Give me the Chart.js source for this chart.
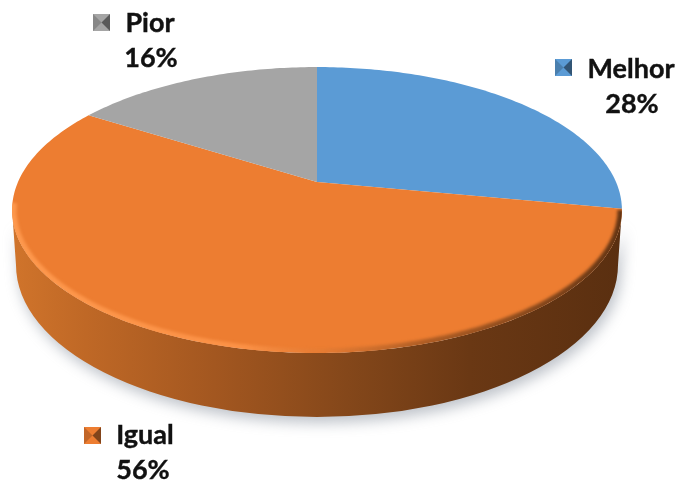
<!DOCTYPE html>
<html>
<head>
<meta charset="utf-8">
<style>
  html, body { margin: 0; background: #fff; }
  canvas { display: block; filter: blur(0.4px); }
</style>
<script src="https://cdn.jsdelivr.net/npm/chart.js@4/dist/chart.umd.js"></script>
</head>
<body>
<canvas id="pie" width="678" height="481"></canvas>
<script>
const categories = ["Melhor", "Igual", "Pior"];
const shares = [28, 56, 16];
const sliceColors = ["#5b9bd5", "#ed7d31", "#a5a5a5"];

// where each label sits: marker box, name centre/baseline, percent centre/baseline
const labelSpots = [
  { box: [555, 59], nameX: 631, nameY: 78, pctX: 632, pctY: 113 },
  { box: [84, 427], nameX: 145, nameY: 444, pctX: 143, pctY: 479 },
  { box: [93, 14], nameX: 150, nameY: 32, pctX: 151, pctY: 67 },
];

// perspective of the tilted disc: apex at (cx, cy), ellipse top 67 and bottom 353
const cx = 317, cy = 182;
const persp = { a: 101.8, c: -0.196, d: 299 };
const rim = (angle) => {
  const u = Math.cos(angle), v = Math.sin(angle);
  const w = 1 + persp.c * v;
  return [cx + persp.d * u / w, (persp.a * v + cy) / w];
};

const traceRim = (ctx, from, to) => {
  const steps = Math.max(8, Math.ceil(Math.abs(to - from) * 60));
  for (let i = 0; i <= steps; i++) {
    const [x, y] = rim(from + (to - from) * i / steps);
    ctx.lineTo(x, y);
  }
};

// widest points of the projected rim, the wall hangs between them
const FRONT_R = 0.197, FRONT_L = Math.PI - 0.197;

const drawWall = (ctx) => {
  const wall = () => {
    ctx.beginPath();
    const [sx, sy] = rim(FRONT_R);
    ctx.moveTo(sx, sy);
    traceRim(ctx, FRONT_R, FRONT_L);
    ctx.ellipse(317, 265, 301, 152, 0, Math.PI, 0, true);
    ctx.closePath();
  };
  const g = ctx.createLinearGradient(13, 0, 622, 0);
  g.addColorStop(0, "#d0742b");
  g.addColorStop(0.12, "#bf6826");
  g.addColorStop(0.33, "#a35720");
  g.addColorStop(0.55, "#84471a");
  g.addColorStop(0.75, "#6a3814");
  g.addColorStop(1, "#5a2f10");

  // soft shadow under the disc
  ctx.save();
  ctx.shadowColor = "rgba(110,120,135,0.45)";
  ctx.shadowBlur = 14;
  ctx.shadowOffsetX = 3;
  ctx.shadowOffsetY = 6;
  wall();
  ctx.fillStyle = g;
  ctx.fill();
  ctx.restore();
};

const drawBevel = (ctx, arc) => {
  // light lip on the left of the rim, dark soft edge on the right
  const g = ctx.createLinearGradient(13, 0, 622, 0);
  g.addColorStop(0, "rgba(255,155,80,0.9)");
  g.addColorStop(0.38, "rgba(255,150,75,0.8)");
  g.addColorStop(0.5, "rgba(225,125,55,0.45)");
  g.addColorStop(0.68, "rgba(120,65,25,0.55)");
  g.addColorStop(1, "rgba(90,48,18,0.95)");
  ctx.save();
  ctx.beginPath();
  const [cxs, cys] = rim(0);
  ctx.moveTo(cxs, cys);
  traceRim(ctx, 0, Math.PI * 2);
  ctx.clip();
  ctx.filter = "blur(1.5px)";
  ctx.beginPath();
  const from = arc.startAngle + 0.01, to = Math.min(arc.endAngle, FRONT_L + 0.05);
  const [sx, sy] = rim(from);
  ctx.moveTo(sx, sy);
  traceRim(ctx, from, to);
  ctx.strokeStyle = g;
  ctx.lineWidth = 9;
  ctx.stroke();
  ctx.restore();
};

const drawMarker = (ctx, x, y, color) => {
  const s = 17, m = s / 2;
  const tri = (pts, fill) => {
    ctx.beginPath();
    ctx.moveTo(pts[0][0], pts[0][1]);
    ctx.lineTo(pts[1][0], pts[1][1]);
    ctx.lineTo(x + m, y + m);
    ctx.closePath();
    ctx.fillStyle = fill;
    ctx.fill();
  };
  ctx.save();
  ctx.fillStyle = color;
  ctx.fillRect(x, y, s, s);
  tri([[x, y], [x, y + s]], "rgba(0,0,0,0.18)");
  tri([[x + s, y], [x + s, y + s]], "rgba(0,0,0,0.45)");
  ctx.restore();
};

const pie3d = {
  id: "pie3d",
  beforeDatasetsDraw(chart) {
    const ctx = chart.ctx;
    const arcs = chart.getDatasetMeta(0).data;
    drawWall(ctx);
    arcs.forEach((arc, i) => {
      ctx.beginPath();
      ctx.moveTo(cx, cy);
      traceRim(ctx, arc.startAngle, arc.endAngle);
      ctx.closePath();
      ctx.fillStyle = sliceColors[i];
      ctx.fill();
    });
    drawBevel(ctx, arcs[1]);

    ctx.save();
    ctx.font = "bold 27px Lato";
    ctx.fillStyle = "#111";
    ctx.strokeStyle = "#111";
    ctx.lineWidth = 0.4;
    ctx.textAlign = "center";
    categories.forEach((name, i) => {
      const spot = labelSpots[i];
      drawMarker(ctx, spot.box[0], spot.box[1], sliceColors[i]);
      ctx.fillStyle = "#111";
      ctx.fillText(name, spot.nameX, spot.nameY);
      ctx.strokeText(name, spot.nameX, spot.nameY);
      ctx.fillText(shares[i] + "%", spot.pctX, spot.pctY);
      ctx.strokeText(shares[i] + "%", spot.pctX, spot.pctY);
    });
    ctx.restore();
    return false;
  },
};

new Chart(document.getElementById("pie"), {
  type: "pie",
  data: {
    labels: categories,
    datasets: [{ data: shares, backgroundColor: sliceColors }],
  },
  options: {
    responsive: false,
    animation: false,
    plugins: { legend: { display: false }, tooltip: { enabled: false } },
  },
  plugins: [pie3d],
});
</script>
</body>
</html>
